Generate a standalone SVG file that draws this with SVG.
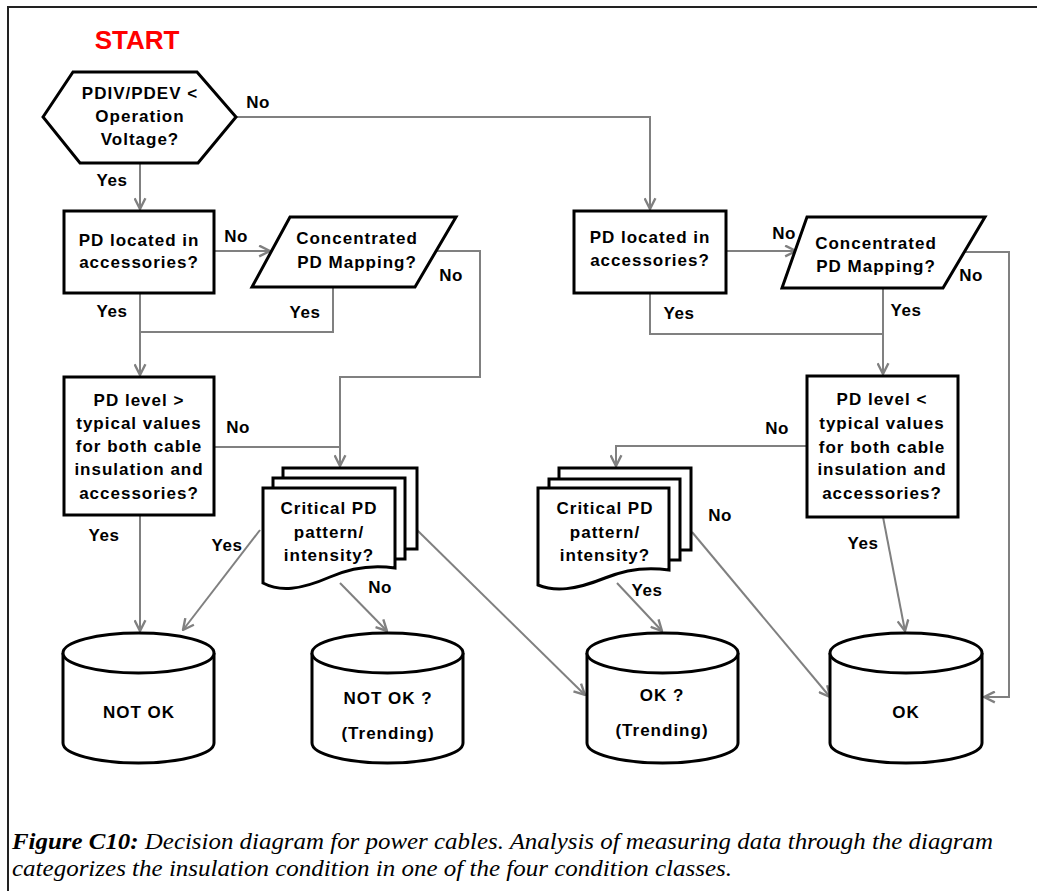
<svg xmlns="http://www.w3.org/2000/svg" width="1037" height="891" viewBox="0 0 1037 891">
<defs>
<marker id="arr" viewBox="0 0 12 12" refX="11" refY="6" markerWidth="13" markerHeight="13" markerUnits="userSpaceOnUse" orient="auto">
<path d="M1,1 L11,6 L1,11" fill="none" stroke="#808080" stroke-width="2.2"/>
</marker>
<style>
.shape{fill:#fff;stroke:#000;stroke-width:3;stroke-linejoin:miter}
.t{font-family:"Liberation Sans",Arial,sans-serif;font-weight:bold;font-size:17px;letter-spacing:1px;fill:#000;text-anchor:middle}
.lbl{font-family:"Liberation Sans",Arial,sans-serif;font-weight:bold;font-size:17px;letter-spacing:0.5px;fill:#000;text-anchor:middle}
.c{fill:none;stroke:#808080;stroke-width:2}
.ca{fill:none;stroke:#808080;stroke-width:2;marker-end:url(#arr)}
.cap{font-family:"Liberation Serif","Times New Roman",serif;font-style:italic;font-size:24px;fill:#000}
</style>
</defs>
<rect width="1037" height="891" fill="#fff"/>
<path d="M8,891 V7 H1037" fill="none" stroke="#222" stroke-width="2"/>
<text x="137" y="49" font-family="Liberation Sans,Arial,sans-serif" font-weight="bold" font-size="26" fill="#ff0000" text-anchor="middle">START</text>

<g id="connectors">
<path class="ca" d="M236,117 H650 V209"/>
<path class="ca" d="M140,163 V209"/>
<path class="ca" d="M214,251 H270"/>
<path class="ca" d="M436,251 H480 V377 H340 V466"/>
<path class="c" d="M214,447 H340"/>
<path class="c" d="M333,287 V332 H140"/>
<path class="ca" d="M140,293 V375"/>
<path class="ca" d="M140,515 V631"/>
<path class="ca" d="M260,530 L183,630"/>
<path class="ca" d="M340,583 L387,631"/>
<path class="ca" d="M417,530 L585,695"/>
<path class="ca" d="M726,251 H796"/>
<path class="ca" d="M964,252 H1009 V697 H984"/>
<path class="ca" d="M883,288 V374"/>
<path class="c" d="M650,293 V334 H883"/>
<path class="ca" d="M807,446 H616 V466"/>
<path class="ca" d="M692,532 L830,697"/>
<path class="ca" d="M617,583 L662,631"/>
<path class="ca" d="M883,517 L905,631"/>
</g>

<g id="labels">
<text class="lbl" x="258" y="108">No</text>
<text class="lbl" x="112" y="186">Yes</text>
<text class="lbl" x="236" y="242">No</text>
<text class="lbl" x="451" y="281">No</text>
<text class="lbl" x="305" y="318">Yes</text>
<text class="lbl" x="112" y="317">Yes</text>
<text class="lbl" x="238" y="433">No</text>
<text class="lbl" x="227" y="551">Yes</text>
<text class="lbl" x="104" y="541">Yes</text>
<text class="lbl" x="380" y="593">No</text>
<text class="lbl" x="784" y="239">No</text>
<text class="lbl" x="971" y="281">No</text>
<text class="lbl" x="906" y="316">Yes</text>
<text class="lbl" x="679" y="319">Yes</text>
<text class="lbl" x="777" y="434">No</text>
<text class="lbl" x="720" y="521">No</text>
<text class="lbl" x="647" y="596">Yes</text>
<text class="lbl" x="863" y="549">Yes</text>
</g>

<g id="n-start">
<polygon class="shape" points="43,117 73,72 197,72 236,117 198,163 80,163"/>
<text class="t" x="140" y="99">PDIV/PDEV &lt;</text>
<text class="t" x="140" y="122">Operation</text>
<text class="t" x="140" y="145">Voltage?</text>
</g>

<g id="n-loc1">
<rect class="shape" x="64" y="211" width="150" height="82"/>
<text class="t" x="139" y="246">PD located in</text>
<text class="t" x="139" y="268">accessories?</text>
</g>

<g id="n-map1">
<polygon class="shape" points="290,217 456,217 415,287 252,287"/>
<text class="t" x="357" y="244">Concentrated</text>
<text class="t" x="357" y="268">PD Mapping?</text>
</g>

<g id="n-level1">
<rect class="shape" x="64" y="377" width="150" height="138"/>
<text class="t" x="139" y="406">PD level &gt;</text>
<text class="t" x="139" y="429">typical values</text>
<text class="t" x="139" y="452">for both cable</text>
<text class="t" x="139" y="475">insulation and</text>
<text class="t" x="139" y="499">accessories?</text>
</g>

<g id="n-crit1">
<rect class="shape" x="283" y="468" width="134" height="81"/>
<rect class="shape" x="273" y="478" width="132" height="81"/>
<path class="shape" d="M263,488 H395 V568 C375,565 355,566 330,577 C300,590 280,592 263,583 Z"/>
<text class="t" x="329" y="514">Critical PD</text>
<text class="t" x="329" y="538">pattern/</text>
<text class="t" x="329" y="561">intensity?</text>
</g>

<g id="n-notok">
<path class="shape" d="M63,653 A75.5,20 0 0 1 214,653 V743 A75.5,20 0 0 1 63,743 Z"/>
<path class="shape" d="M63,653 A75.5,20 0 0 0 214,653" fill="none"/>
<text class="t" x="139" y="718">NOT OK</text>
</g>

<g id="n-notokq">
<path class="shape" d="M312,653 A75.5,20 0 0 1 463,653 V743 A75.5,20 0 0 1 312,743 Z"/>
<path class="shape" d="M312,653 A75.5,20 0 0 0 463,653" fill="none"/>
<text class="t" x="388" y="704">NOT OK ?</text>
<text class="t" x="388" y="739">(Trending)</text>
</g>

<g id="n-loc2">
<rect class="shape" x="574" y="211" width="152" height="82"/>
<text class="t" x="650" y="243">PD located in</text>
<text class="t" x="650" y="266">accessories?</text>
</g>

<g id="n-map2">
<polygon class="shape" points="807,217 985,217 943,288 782,288"/>
<text class="t" x="876" y="249">Concentrated</text>
<text class="t" x="876" y="272">PD Mapping?</text>
</g>

<g id="n-level2">
<rect class="shape" x="807" y="376" width="151" height="141"/>
<text class="t" x="882" y="405">PD level &lt;</text>
<text class="t" x="882" y="429">typical values</text>
<text class="t" x="882" y="453">for both cable</text>
<text class="t" x="882" y="475">insulation and</text>
<text class="t" x="882" y="499">accessories?</text>
</g>

<g id="n-crit2">
<rect class="shape" x="559" y="468" width="132" height="82"/>
<rect class="shape" x="549" y="479" width="131" height="81"/>
<path class="shape" d="M538,488 H669 V570 C649,567 629,568 605,578 C575,590 555,592 538,585 Z"/>
<text class="t" x="605" y="514">Critical PD</text>
<text class="t" x="605" y="538">pattern/</text>
<text class="t" x="605" y="561">intensity?</text>
</g>

<g id="n-okq">
<path class="shape" d="M587,653 A75.5,20 0 0 1 738,653 V743 A75.5,20 0 0 1 587,743 Z"/>
<path class="shape" d="M587,653 A75.5,20 0 0 0 738,653" fill="none"/>
<text class="t" x="662" y="701">OK ?</text>
<text class="t" x="662" y="736">(Trending)</text>
</g>

<g id="n-ok">
<path class="shape" d="M830,653 A76,20 0 0 1 982,653 V743 A76,20 0 0 1 830,743 Z"/>
<path class="shape" d="M830,653 A76,20 0 0 0 982,653" fill="none"/>
<text class="t" x="906" y="718">OK</text>
</g>

<g id="caption">
<text class="cap" x="12" y="849" textLength="981" lengthAdjust="spacingAndGlyphs"><tspan font-weight="bold">Figure C10:</tspan> Decision diagram for power cables. Analysis of measuring data through the diagram</text>
<text class="cap" x="12" y="876" textLength="720" lengthAdjust="spacingAndGlyphs">categorizes the insulation condition in one of the four condition classes.</text>
</g>
</svg>
